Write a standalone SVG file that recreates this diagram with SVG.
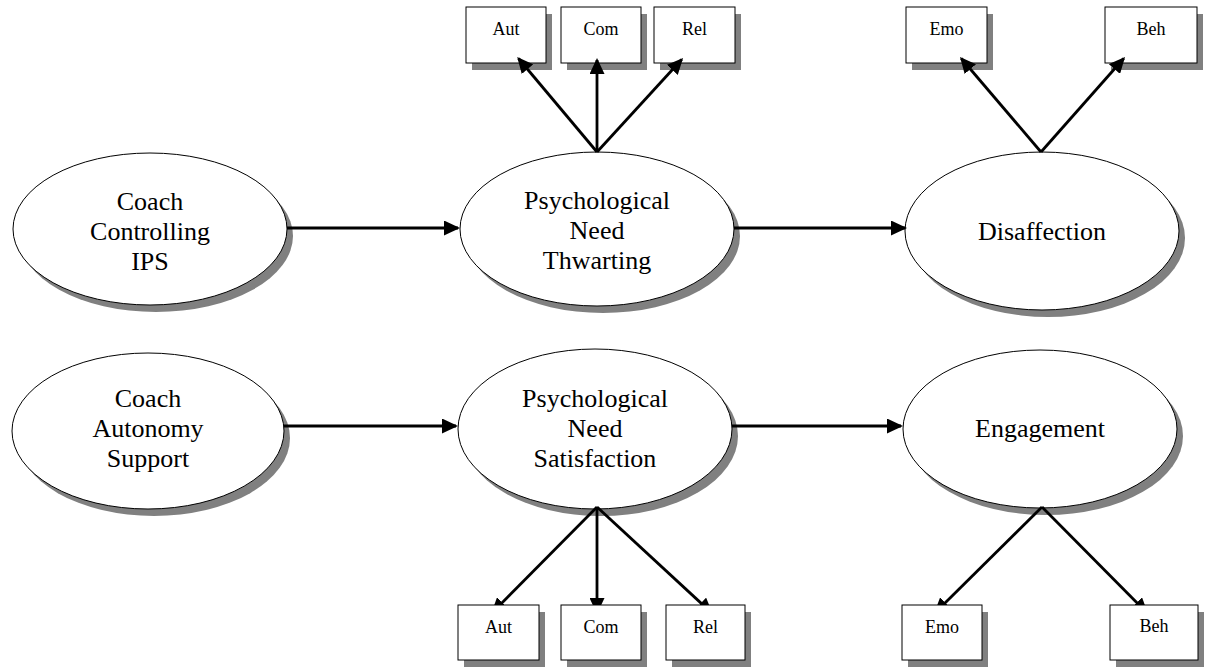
<svg xmlns="http://www.w3.org/2000/svg" width="1213" height="668" viewBox="0 0 1213 668">
<style>
.sh{fill:#808080;stroke:none}
.el{fill:#fff;stroke:#000;stroke-width:1}
.bx{fill:#fff;stroke:#000;stroke-width:1}
.lt{font-family:"Liberation Serif","Times New Roman",serif;font-size:26px;fill:#000;text-anchor:middle}
.st{font-family:"Liberation Serif","Times New Roman",serif;font-size:18px;fill:#000;text-anchor:middle}
.cn{stroke:#000;stroke-width:2.8;fill:none;marker-end:url(#ah)}
</style>
<defs>
<marker id="ah" viewBox="0 0 16 15" refX="14" refY="7.5" markerWidth="16" markerHeight="15" markerUnits="userSpaceOnUse" orient="auto">
<path d="M0,0 L16,7.5 L0,15 z" fill="#000"/>
</marker>
</defs>
<rect width="1213" height="668" fill="#fff"/>

<g id="n-top-aut"><rect class="sh" x="472" y="14" width="80" height="56"/><rect class="bx" x="466" y="7" width="80" height="56"/><text class="st" x="506" y="35">Aut</text></g>
<g id="n-top-com"><rect class="sh" x="567" y="14" width="80" height="56"/><rect class="bx" x="561" y="7" width="80" height="56"/><text class="st" x="601" y="35">Com</text></g>
<g id="n-top-rel"><rect class="sh" x="660" y="14" width="81" height="56"/><rect class="bx" x="654" y="7" width="81" height="56"/><text class="st" x="694.5" y="35">Rel</text></g>
<g id="n-top-emo"><rect class="sh" x="912" y="14" width="81" height="56"/><rect class="bx" x="906" y="7" width="81" height="56"/><text class="st" x="946.5" y="35">Emo</text></g>
<g id="n-top-beh"><rect class="sh" x="1111" y="14" width="92" height="56"/><rect class="bx" x="1105" y="7" width="92" height="56"/><text class="st" x="1151" y="35">Beh</text></g>

<g id="n-controlling"><ellipse class="sh" cx="156" cy="236" rx="137" ry="76"/><ellipse class="el" cx="150" cy="229" rx="137" ry="76"/>
<text class="lt" x="150" y="210">Coach</text><text class="lt" x="150" y="240">Controlling</text><text class="lt" x="150" y="270">IPS</text></g>
<g id="n-thwarting"><ellipse class="sh" cx="603" cy="236" rx="137" ry="77"/><ellipse class="el" cx="597" cy="229" rx="137" ry="77"/>
<text class="lt" x="597" y="209">Psychological</text><text class="lt" x="597" y="239">Need</text><text class="lt" x="597" y="269">Thwarting</text></g>
<g id="n-disaffection"><ellipse class="sh" cx="1048" cy="238" rx="137" ry="79"/><ellipse class="el" cx="1042" cy="231" rx="137" ry="79"/>
<text class="lt" x="1042" y="240">Disaffection</text></g>

<g id="n-autonomy"><ellipse class="sh" cx="154" cy="438" rx="136" ry="78"/><ellipse class="el" cx="148" cy="431" rx="136" ry="78"/>
<text class="lt" x="148" y="407">Coach</text><text class="lt" x="148" y="437">Autonomy</text><text class="lt" x="148" y="467">Support</text></g>
<g id="n-satisfaction"><ellipse class="sh" cx="601" cy="436" rx="137" ry="80"/><ellipse class="el" cx="595" cy="429" rx="137" ry="80"/>
<text class="lt" x="595" y="407">Psychological</text><text class="lt" x="595" y="437">Need</text><text class="lt" x="595" y="467">Satisfaction</text></g>
<g id="n-engagement"><ellipse class="sh" cx="1046" cy="436" rx="137" ry="79"/><ellipse class="el" cx="1040" cy="429" rx="137" ry="79"/>
<text class="lt" x="1040" y="437">Engagement</text></g>

<g id="connectors">
<line class="cn" x1="287" y1="228" x2="458" y2="228"/>
<line class="cn" x1="734" y1="228" x2="905" y2="228"/>
<line class="cn" x1="284" y1="426" x2="456" y2="426"/>
<line class="cn" x1="732" y1="426" x2="901" y2="426"/>
<line class="cn" x1="597" y1="152" x2="518.5" y2="58.5"/>
<line class="cn" x1="597" y1="152" x2="597" y2="60"/>
<line class="cn" x1="597" y1="152" x2="681.7" y2="59.5"/>
<line class="cn" x1="1041" y1="152" x2="961.3" y2="58.5"/>
<line class="cn" x1="1041" y1="152" x2="1123.7" y2="58.5"/>
<line class="cn" x1="597" y1="507" x2="492.5" y2="612.5"/>
<line class="cn" x1="597" y1="507" x2="597" y2="612"/>
<line class="cn" x1="597" y1="507" x2="711.3" y2="612.6"/>
<line class="cn" x1="1042" y1="507" x2="935.4" y2="612.6"/>
<line class="cn" x1="1042" y1="507" x2="1146.6" y2="612.6"/>
</g>

<g id="n-bot-aut"><rect class="sh" x="464" y="612" width="81" height="55"/><rect class="bx" x="458" y="605" width="81" height="55"/><text class="st" x="498.5" y="633">Aut</text></g>
<g id="n-bot-com"><rect class="sh" x="567" y="612" width="80" height="55"/><rect class="bx" x="561" y="605" width="80" height="55"/><text class="st" x="601" y="633">Com</text></g>
<g id="n-bot-rel"><rect class="sh" x="672" y="612" width="79" height="55"/><rect class="bx" x="666" y="605" width="79" height="55"/><text class="st" x="705.5" y="633">Rel</text></g>
<g id="n-bot-emo"><rect class="sh" x="908" y="612" width="80" height="55"/><rect class="bx" x="902" y="605" width="80" height="55"/><text class="st" x="942" y="633">Emo</text></g>
<g id="n-bot-beh"><rect class="sh" x="1116" y="612" width="88" height="55"/><rect class="bx" x="1110" y="605" width="88" height="55"/><text class="st" x="1154" y="632">Beh</text></g>
</svg>
